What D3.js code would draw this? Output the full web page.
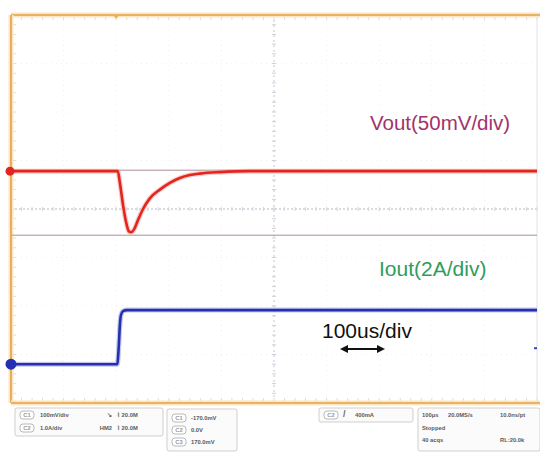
<!DOCTYPE html>
<html>
<head>
<meta charset="utf-8">
<script src="https://cdn.jsdelivr.net/npm/d3@7"></script>
<style>
  html, body { margin: 0; padding: 0; background: #fff; }
  svg { display: block; }
  text { font-family: "Liberation Sans", Arial, sans-serif; }
</style>
</head>
<body>
<svg id="scope" width="540" height="455"></svg>
<script>
// Load-step capture: time in microseconds, Vout deviation in mV, Iout in A
const timeUs   = [-500, -297, -293, -287, -281, -276, -272, -266, -259, -249, -236, -217, -198, -179, -160, -141, -103, -46, 500];
const voutMv   = [0, 0, -12, -35, -53, -62, -63, -60, -51, -39, -28, -19, -12, -7, -4, -2.5, -1, 0, 0];
const ioutTime = [-500, -298, -295, -293, -291, -287, -280, 500];
const ioutA    = [0, 0, 0.78, 1.61, 2.02, 2.19, 2.23, 2.23];

// Channel settings
const voutPerDiv = 50;    // mV/div
const ioutPerDiv = 2;     // A/div
const voutPos = 0.78;     // divisions above centre
const ioutPos = -3.2;     // divisions below centre
const cursorMv = [1, -66];
const triggerUs = -300;

// Readout panel text
const readoutCh = [["C1", "100mV/div", "\u2198", "\u2307 20.0M"], ["C2", "1.0A/div", "HM2", "\u2307 20.0M"]];
const readoutCursor = [["C1", "-170.0mV"], ["C2", "0.0V"], ["C3", "170.0mV"]];
const readoutTrig = ["C2", "/", "400mA"];
const readoutAcq = [["100\u03bcs", "20.0MS/s", "10.0ns/pt"], ["Stopped", "", ""], ["40 acqs", "", "RL:20.0k"]];

const svg = d3.select("#scope");
const x = d3.scaleLinear().domain([-500, 500]).range([11, 537]);
const y = d3.scaleLinear().domain([-4, 4]).range([403, 15]);

// Graticule
const grid = svg.append("g");
d3.range(-4, 5).forEach(d => {
  if (d !== 0) grid.append("line").attr("x1", 11).attr("x2", 537).attr("y1", y(d)).attr("y2", y(d))
    .attr("stroke", "#f1f1f5").attr("stroke-dasharray", "1,4");
});
d3.range(-500, 501, 100).forEach(t => {
  if (t !== 0) grid.append("line").attr("x1", x(t)).attr("x2", x(t)).attr("y1", 15).attr("y2", 403)
    .attr("stroke", "#f1f1f5").attr("stroke-dasharray", "1,4");
});
grid.append("line").attr("x1", x(0)).attr("x2", x(0)).attr("y1", 15).attr("y2", 403)
  .attr("stroke", "#c4c4d2").attr("stroke-dasharray", "2,3");
grid.append("line").attr("x1", 11).attr("x2", 537).attr("y1", y(0)).attr("y2", y(0))
  .attr("stroke", "#b7b7c4").attr("stroke-dasharray", "2,2");
// minor ticks on crosshair and edges
d3.range(-500, 501, 20).forEach(t => {
  grid.append("line").attr("x1", x(t)).attr("x2", x(t)).attr("y1", y(0) - 2).attr("y2", y(0) + 2).attr("stroke", "#d4d4de");
  grid.append("line").attr("x1", x(t)).attr("x2", x(t)).attr("y1", 16).attr("y2", 20).attr("stroke", "#e2dcd0");
  grid.append("line").attr("x1", x(t)).attr("x2", x(t)).attr("y1", 398).attr("y2", 402).attr("stroke", "#e2dcd0");
});
d3.range(-4, 4.01, 0.2).forEach(d => {
  grid.append("line").attr("x1", x(0) - 2).attr("x2", x(0) + 2).attr("y1", y(d)).attr("y2", y(d)).attr("stroke", "#d0d0dc");
  grid.append("line").attr("x1", 12).attr("x2", 16).attr("y1", y(d)).attr("y2", y(d)).attr("stroke", "#e6dcc8");
});
grid.append("line").attr("x1", 537).attr("x2", 537).attr("y1", 15).attr("y2", 403).attr("stroke", "#e4e4ea");

// Frame (orange bezel edge)
const frame = svg.append("g");
[[11, 15, 540, 15], [11, 15, 11, 403], [11, 403, 540, 403]].forEach(([x1, y1, x2, y2]) => {
  frame.append("line").attr("x1", x1).attr("y1", y1).attr("x2", x2).attr("y2", y2)
    .attr("stroke", "#fbe6c0").attr("stroke-width", 5);
  frame.append("line").attr("x1", x1).attr("y1", y1).attr("x2", x2).attr("y2", y2)
    .attr("stroke", "#e2a04a").attr("stroke-width", 1.6);
});
// trigger position marker
frame.append("path")
  .attr("d", `M${x(triggerUs) - 3},15 L${x(triggerUs) + 3},15 L${x(triggerUs)},19 Z`)
  .attr("fill", "#e6b060");

// Cursors on Vout
cursorMv.forEach(v => {
  svg.append("line").attr("x1", 12).attr("x2", 537)
    .attr("y1", y(voutPos + v / voutPerDiv)).attr("y2", y(voutPos + v / voutPerDiv))
    .attr("stroke", "#ad8f96").attr("stroke-width", 1);
});

// Traces
const vLine = d3.line().x((d, i) => x(timeUs[i])).y(d => y(voutPos + d / voutPerDiv)).curve(d3.curveMonotoneX);
const iLine = d3.line().x((d, i) => x(ioutTime[i])).y(d => y(ioutPos + d / ioutPerDiv)).curve(d3.curveMonotoneX);

svg.append("path").attr("d", vLine(voutMv)).attr("fill", "none")
  .attr("stroke", "#f4a8a4").attr("stroke-width", 5).attr("opacity", 0.6);
svg.append("path").attr("d", vLine(voutMv)).attr("fill", "none")
  .attr("stroke", "#e2251f").attr("stroke-width", 2.6);

svg.append("path").attr("d", iLine(ioutA)).attr("fill", "none")
  .attr("stroke", "#9ea4e4").attr("stroke-width", 5).attr("opacity", 0.6);
svg.append("path").attr("d", iLine(ioutA)).attr("fill", "none")
  .attr("stroke", "#2430b0").attr("stroke-width", 2.6);

// Channel reference markers
svg.append("circle").attr("cx", 10).attr("cy", y(voutPos)).attr("r", 4.5).attr("fill", "#e2251f");
svg.append("circle").attr("cx", 11).attr("cy", y(ioutPos)).attr("r", 5.5).attr("fill", "#2430b0");
svg.append("rect").attr("x", 534).attr("y", y(ioutPos + 0.35)).attr("width", 3).attr("height", 2).attr("fill", "#3a44b8");

// Labels
svg.append("text").attr("x", 370).attr("y", 130).attr("font-size", 20.5).attr("fill", "#a3336b").text("Vout(50mV/div)");
svg.append("text").attr("x", 379).attr("y", 276).attr("font-size", 21).attr("fill", "#2f9c5c").text("Iout(2A/div)");
svg.append("text").attr("x", 322).attr("y", 338).attr("font-size", 21).attr("fill", "#111").text("100us/div");

// Time-per-division arrow
const ay = 349, ax1 = 340, ax2 = 385;
svg.append("line").attr("x1", ax1 + 4).attr("x2", ax2 - 4).attr("y1", ay).attr("y2", ay).attr("stroke", "#111").attr("stroke-width", 2);
svg.append("path").attr("d", `M${ax1},${ay} L${ax1 + 8},${ay - 4} L${ax1 + 8},${ay + 4} Z`).attr("fill", "#111");
svg.append("path").attr("d", `M${ax2},${ay} L${ax2 - 8},${ay - 4} L${ax2 - 8},${ay + 4} Z`).attr("fill", "#111");

// Readout panels
const panel = svg.append("g").attr("font-size", 5.8).attr("font-weight", "bold").attr("fill", "#5a5a5a");
function box(x0, y0, w, h) {
  panel.append("rect").attr("x", x0).attr("y", y0).attr("width", w).attr("height", h).attr("rx", 2)
    .attr("fill", "#fbfbfb").attr("stroke", "#cfcfcf");
}
function badge(x0, yc, label) {
  panel.append("rect").attr("x", x0).attr("y", yc - 4).attr("width", 14).attr("height", 8).attr("rx", 3)
    .attr("fill", "#fff").attr("stroke", "#aaa").attr("stroke-width", 0.8);
  panel.append("text").attr("x", x0 + 7).attr("y", yc + 2).attr("text-anchor", "middle").attr("fill", "#999").text(label);
}
box(15, 408, 148, 28);
readoutCh.forEach((r, i) => {
  const yc = 415 + i * 13;
  badge(20, yc, r[0]);
  panel.append("text").attr("x", 40).attr("y", yc + 2).text(r[1]);
  panel.append("text").attr("x", 112).attr("y", yc + 2).attr("text-anchor", "end").text(r[2]);
  panel.append("text").attr("x", 117).attr("y", yc + 2).text(r[3]);
});
box(167, 409, 70, 42);
readoutCursor.forEach((r, i) => {
  const yc = 418 + i * 12;
  badge(172, yc, r[0]);
  panel.append("text").attr("x", 191).attr("y", yc + 2).text(r[1]);
});
box(319, 408, 94, 14);
badge(324, 415, readoutTrig[0]);
panel.append("text").attr("x", 343).attr("y", 417).attr("font-size", 9).attr("fill", "#666").text(readoutTrig[1]);
panel.append("text").attr("x", 355).attr("y", 417).text(readoutTrig[2]);
box(418, 408, 122, 43);
readoutAcq.forEach((r, i) => {
  const yc = 415 + i * 12.5;
  panel.append("text").attr("x", 422).attr("y", yc + 2).text(r[0]);
  panel.append("text").attr("x", 448).attr("y", yc + 2).text(r[1]);
  panel.append("text").attr("x", 500).attr("y", yc + 2).text(r[2]);
});
</script>
</body>
</html>
